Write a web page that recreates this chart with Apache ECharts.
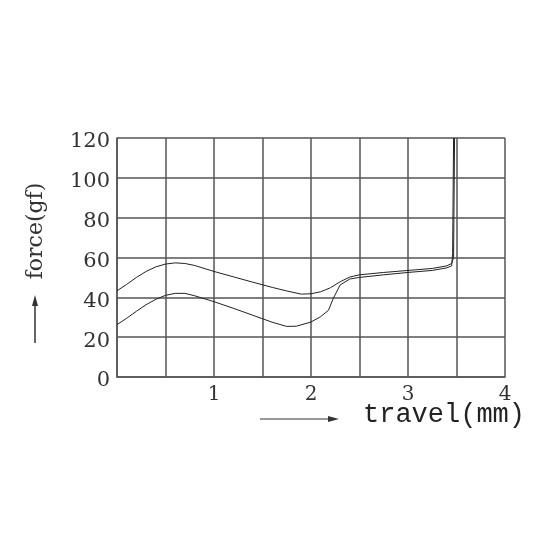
<!DOCTYPE html>
<html>
<head>
<meta charset="utf-8">
<script src="https://cdn.jsdelivr.net/npm/echarts@6/dist/echarts.min.js"></script>
<style>html,body{margin:0;padding:0;background:#fff}#c{width:556px;height:556px}</style>
</head>
<body>
<div id="c"></div>
<script>
// travel (mm) and force (gf)
var upperX = [0, 0.1, 0.2, 0.3, 0.4, 0.5, 0.6, 0.7, 0.8, 1.0, 1.2, 1.4, 1.6, 1.75, 1.9, 2.0, 2.1, 2.2, 2.3, 2.4, 2.5, 2.75, 3.0, 3.25, 3.4, 3.45, 3.47, 3.48];
var upperY = [43.3, 46.5, 50, 53, 55.3, 56.7, 57.3, 57.0, 56.0, 53.0, 50.3, 47.6, 45.0, 43.2, 41.6, 41.8, 42.8, 44.8, 47.8, 50.2, 51.3, 52.5, 53.5, 54.5, 55.8, 57.0, 60, 120];
var lowerX = [0, 0.1, 0.2, 0.3, 0.4, 0.5, 0.6, 0.7, 0.8, 1.0, 1.2, 1.4, 1.6, 1.75, 1.85, 2.0, 2.1, 2.18, 2.23, 2.3, 2.4, 2.5, 2.75, 3.0, 3.25, 3.4, 3.45, 3.46, 3.47];
var lowerY = [26.3, 29.5, 33, 36.3, 39, 41, 42, 42, 40.8, 37.8, 34.5, 31, 27.5, 25.4, 25.5, 27.6, 30.3, 33.5, 39.5, 46.2, 49.2, 50.0, 51.3, 52.5, 53.5, 54.8, 55.8, 62, 120];
var xTickLabels = ['1', '2', '3', '4'];
var yTickLabels = ['0', '20', '40', '60', '80', '100', '120'];
var yAxisTitle = 'force(gf)';
var xAxisTitle = 'travel(mm)';

function pairs(xs, ys) { return xs.map(function (x, i) { return [x, ys[i]]; }); }

var chart = echarts.init(document.getElementById('c'), null, {renderer: 'canvas'});
var gridColor = '#555';
chart.setOption({
  backgroundColor: '#fff',
  animation: false,
  grid: {left: 117, right: 51, top: 138, bottom: 179},
  xAxis: {
    type: 'value', min: 0, max: 4, interval: 0.5,
    axisLine: {show: true, lineStyle: {color: gridColor, width: 1.5}},
    axisTick: {show: false},
    splitLine: {show: true, lineStyle: {color: gridColor, width: 1.5}},
    axisLabel: {
      margin: 8, color: '#333', fontFamily: 'DejaVu Serif', fontSize: 20,
      formatter: function (v) { var i = xTickLabels.indexOf(String(v)); return i >= 0 ? xTickLabels[i] : ''; }
    }
  },
  yAxis: {
    type: 'value', min: 0, max: 120, interval: 20,
    axisLine: {show: true, lineStyle: {color: gridColor, width: 1.5}},
    axisTick: {show: false},
    splitLine: {show: true, lineStyle: {color: gridColor, width: 1.5}},
    axisLabel: {
      margin: 7, color: '#333', fontFamily: 'DejaVu Serif', fontSize: 21,
      verticalAlign: 'top', lineHeight: 8,
      formatter: function (v) { var i = yTickLabels.indexOf(String(v)); return i >= 0 ? yTickLabels[i] : ''; }
    }
  },
  series: [
    {type: 'line', data: pairs(upperX, upperY), showSymbol: false, lineStyle: {color: '#222', width: 1}},
    {type: 'line', data: pairs(lowerX, lowerY), showSymbol: false, lineStyle: {color: '#222', width: 1}}
  ],
  graphic: [
    {type: 'text', x: 36, y: 231, rotation: Math.PI / 2,
     style: {text: yAxisTitle, fill: '#333', font: '22px "DejaVu Serif"', align: 'center', verticalAlign: 'middle'}},
    {type: 'line', shape: {x1: 35, y1: 343, x2: 35, y2: 302}, style: {stroke: '#333', lineWidth: 1.5}},
    {type: 'polygon', shape: {points: [[35, 295], [32, 306], [38, 306]]}, style: {fill: '#333'}},
    {type: 'text', x: 363, y: 415,
     style: {text: xAxisTitle, fill: '#222', font: '27px "Liberation Mono"', align: 'left', verticalAlign: 'middle'}},
    {type: 'line', shape: {x1: 260, y1: 419, x2: 331, y2: 419}, style: {stroke: '#333', lineWidth: 1.2}},
    {type: 'polygon', shape: {points: [[339, 419], [328, 416], [328, 422]]}, style: {fill: '#333'}}
  ]
});
</script>
</body>
</html>
